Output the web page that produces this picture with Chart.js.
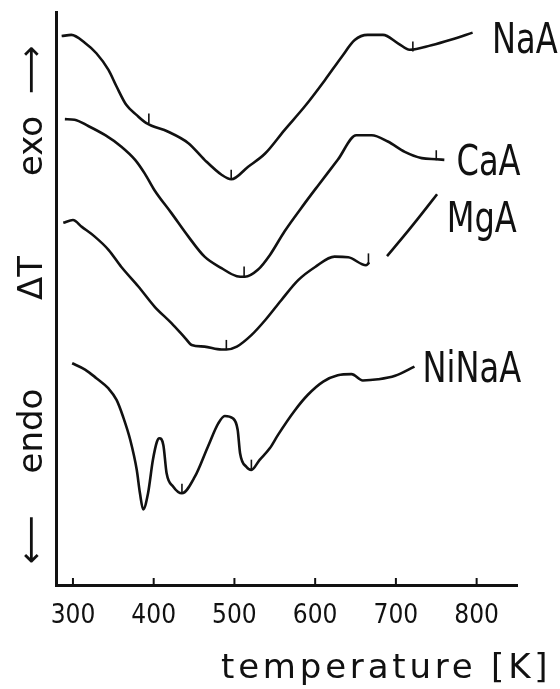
<!DOCTYPE html>
<html>
<head>
<meta charset="utf-8">
<title>DTA curves of A zeolites</title>
<script src="https://cdn.jsdelivr.net/npm/chart.js@4"></script>
<style>
  html, body { margin: 0; padding: 0; background: #fff; }
  canvas { display: block; }
</style>
</head>
<body>
<canvas id="dtaChart" width="560" height="689"></canvas>
<script>
// Temperature ticks on the x axis [K]
var tempTicks = [300, 400, 500, 600, 700, 800];

// Curve names
var curveNames = ['NaA', 'CaA', 'MgA', 'NiNaA'];

// NaA curve (temperature [K] / Delta T, arbitrary units)
var naaT = [286, 298, 315, 329, 344, 354, 366, 379, 391, 418, 443, 463, 484, 496, 517, 538, 562, 587, 612, 633, 649, 665, 684, 703, 717, 744, 769, 795];
var naaV = [95.8, 96.0, 94.6, 92.8, 89.9, 87.0, 83.8, 82.0, 80.6, 79.1, 77.1, 74.2, 71.6, 70.8, 73.0, 75.3, 79.4, 83.5, 88.1, 92.2, 95.1, 96.0, 96.0, 94.5, 93.4, 94.2, 95.2, 96.4];

// CaA curve
var caaT = [290, 302, 319, 340, 360, 377, 389, 401, 422, 443, 463, 484, 503, 513, 529, 544, 562, 587, 603, 628, 651, 670, 690, 711, 732, 750, 760];
var caaV = [81.3, 81.2, 80.1, 78.5, 76.5, 74.2, 71.8, 68.9, 64.9, 60.8, 57.3, 55.3, 53.9, 53.8, 55.0, 57.6, 61.7, 66.6, 69.6, 74.2, 78.5, 78.5, 77.4, 75.6, 74.5, 74.3, 74.2];

// MgA curve (the trace is broken near 680 K)
var mgaT = [288, 300, 311, 327, 344, 360, 381, 401, 422, 439, 447, 463, 484, 490, 503, 521, 538, 558, 579, 600, 624, 641, 663, 667, 678, 689, 711, 731, 751];
var mgaV = [63.2, 63.7, 62.5, 60.8, 58.5, 55.5, 52.1, 48.6, 45.7, 43.1, 41.9, 41.6, 41.1, 41.1, 41.6, 43.6, 46.2, 49.7, 53.2, 55.5, 57.3, 57.2, 55.8, 56.3, null, 57.4, 61.1, 64.6, 68.2];

// NiNaA curve
var ninaT = [299, 315, 329, 344, 354, 362, 371, 379, 383, 387, 393, 399, 404, 407, 412, 416, 424, 435, 451, 467, 480, 488, 498, 504, 507, 515, 521, 531, 544, 554, 575, 591, 610, 628, 645, 659, 678, 699, 723];
var ninaV = [38.7, 37.6, 36.1, 34.3, 32.3, 29.4, 25.3, 20.1, 16.0, 13.2, 16.0, 21.8, 25.0, 25.6, 24.4, 19.5, 17.2, 16.0, 18.9, 24.1, 28.2, 29.5, 29.1, 27.1, 23.0, 20.6, 20.1, 21.8, 23.9, 26.2, 30.5, 33.2, 35.5, 36.6, 36.8, 35.7, 35.9, 36.5, 38.1];

// Small temperature marks drawn on the curves
var markT = [394, 496, 721, 512, 750, 490, 666, 435, 521];
var markV = [81.4, 71.6, 94.0, 54.7, 75.0, 41.9, 57.0, 16.8, 21.0];

// Where the curve names sit (data units)
var nameT = [819, 775, 763, 733];
var nameV = [92.8, 71.6, 61.6, 35.4];

function toPoints(ts, vs) {
  return ts.map(function (t, i) { return { x: t, y: vs[i] }; });
}

function curve(label, ts, vs) {
  return {
    label: label,
    data: toPoints(ts, vs),
    borderColor: '#111',
    borderWidth: 2.6,
    pointRadius: 0,
    fill: false,
    spanGaps: false,
    cubicInterpolationMode: 'monotone'
  };
}

var narrowFont = '"Liberation Sans Narrow", "DejaVu Sans Condensed", sans-serif';

// Draws curve names, axis annotations and inward ticks
var annotations = {
  id: 'annotations',
  afterDraw: function (chart) {
    var ctx = chart.ctx;
    var xs = chart.scales.x;
    var ys = chart.scales.y;
    var area = chart.chartArea;
    ctx.save();
    ctx.fillStyle = '#111';
    ctx.strokeStyle = '#111';

    // inward tick marks on the temperature axis
    ctx.lineWidth = 2;
    tempTicks.forEach(function (t) {
      var px = xs.getPixelForValue(t);
      ctx.beginPath();
      ctx.moveTo(px, area.bottom);
      ctx.lineTo(px, area.bottom - 7);
      ctx.stroke();
    });

    // curve names (squeezed a little, the lettering is narrow)
    ctx.font = '42px ' + narrowFont;
    ctx.textAlign = 'left';
    ctx.textBaseline = 'alphabetic';
    curveNames.forEach(function (name, i) {
      ctx.save();
      ctx.translate(xs.getPixelForValue(nameT[i]), ys.getPixelForValue(nameV[i]));
      ctx.scale(0.85, 1);
      ctx.fillText(name, 0, 0);
      ctx.restore();
    });

    // x axis title
    ctx.font = '34px "DejaVu Sans", sans-serif';
    ctx.letterSpacing = '3.8px';
    ctx.fillText('temperature [K]', 221, 678);
    ctx.letterSpacing = '0px';

    // y axis annotation, rotated
    ctx.translate(42, 0);
    ctx.rotate(-Math.PI / 2);
    ctx.textAlign = 'center';
    ctx.fillText('\u27F6', -70, 0);
    ctx.fillText('exo', -146, 0);
    ctx.fillText('\u0394T', -278, 0);
    ctx.fillText('endo', -431, 0);
    ctx.fillText('\u27F5', -540, 0);
    ctx.restore();
  }
};

var ctx = document.getElementById('dtaChart').getContext('2d');

var data = {
  datasets: [
    curve('NaA', naaT, naaV),
    curve('CaA', caaT, caaV),
    curve('MgA', mgaT, mgaV),
    curve('NiNaA', ninaT, ninaV),
    {
      label: 'marks',
      data: toPoints(markT, markV),
      showLine: false,
      pointStyle: 'line',
      rotation: 90,
      pointRadius: 5,
      borderColor: '#111',
      borderWidth: 1.6
    }
  ]
};

var options = {
  responsive: false,
  animation: false,
  layout: { padding: { left: 0, right: 43, top: 12, bottom: 0 } },
  plugins: {
    legend: { display: false },
    tooltip: { enabled: false }
  },
  scales: {
    x: {
      type: 'linear',
      min: 279,
      max: 850,
      afterBuildTicks: function (scale) {
        scale.ticks = tempTicks.map(function (v) { return { value: v }; });
      },
      afterFit: function (scale) { scale.height = 104; },
      grid: { display: false, drawTicks: false },
      border: { display: true, color: '#111', width: 3 },
      ticks: {
        color: '#111',
        padding: 16,
        font: { family: narrowFont, size: 26 }
      }
    },
    y: {
      min: 0,
      max: 100,
      afterFit: function (scale) { scale.width = 56; },
      grid: { display: false, drawTicks: false },
      border: { display: true, color: '#111', width: 3 },
      ticks: { display: false }
    }
  }
};

var dtaChart = new Chart(ctx, {
  type: 'line',
  data: data,
  options: options,
  plugins: [annotations]
});
</script>
</body>
</html>
